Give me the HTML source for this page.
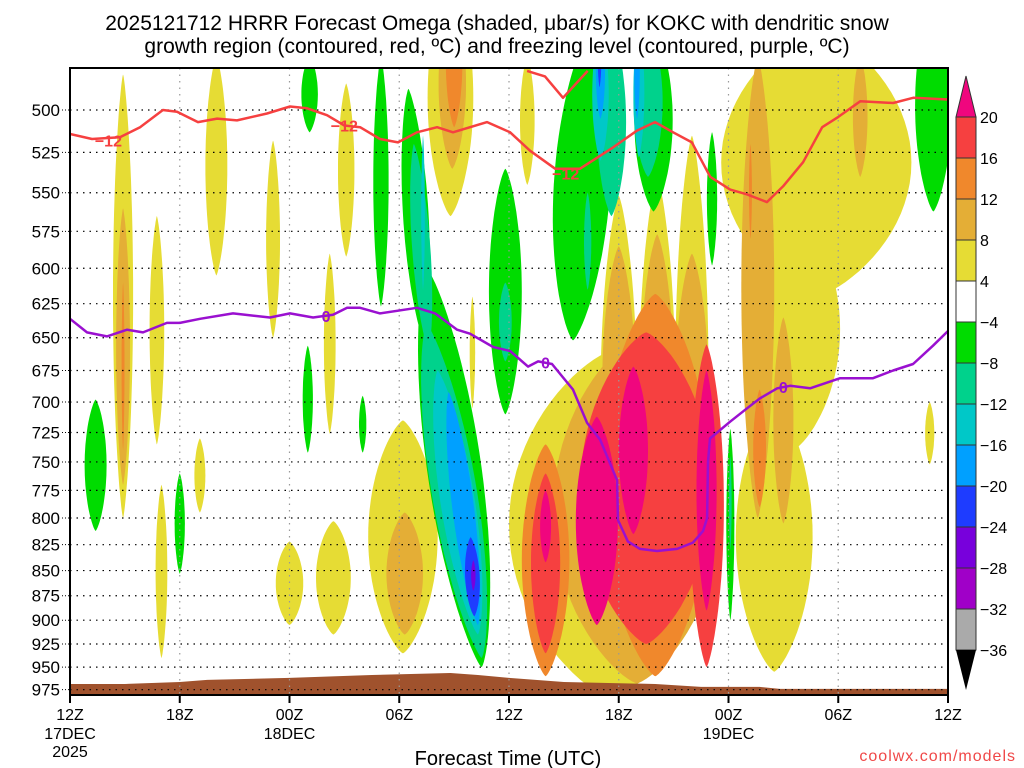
<!DOCTYPE html>
<html><head><meta charset="utf-8"><style>
html,body{margin:0;padding:0;background:#fff;}
svg{display:block;font-family:"Liberation Sans",sans-serif;}
</style></head><body>
<svg id="chart" width="1024" height="768" viewBox="0 0 1024 768" xmlns="http://www.w3.org/2000/svg">
<rect x="0" y="0" width="1024" height="768" fill="#fff"/>
<text x="497" y="30" text-anchor="middle" font-size="21" fill="#000">2025121712 HRRR Forecast Omega (shaded, μbar/s) for KOKC with dendritic snow</text>
<text x="497" y="53" text-anchor="middle" font-size="21" fill="#000">growth region (contoured, red, ºC) and freezing level (contoured, purple, ºC)</text>
<defs><clipPath id="plotclip"><rect x="70" y="68" width="878" height="627"/></clipPath></defs>
<g id="fills" clip-path="url(#plotclip)"></g>
<g id="terrain" clip-path="url(#plotclip)"></g>
<g id="grid"></g>
<g id="lines" clip-path="url(#plotclip)"></g>
<rect x="70" y="68" width="878" height="627" fill="none" stroke="#000" stroke-width="2"/>
<g id="axes"></g>
<g id="cbar"></g>
<text x="508" y="765" text-anchor="middle" font-size="20" fill="#000">Forecast Time (UTC)</text>
<text x="1016" y="761" text-anchor="end" font-size="16" fill="#f04848" letter-spacing="1">coolwx.com/models</text>
</svg>
<script>
// ---- data ----
const pressureTicks=[500,525,550,575,600,625,650,675,700,725,750,775,800,825,850,875,900,925,950,975];
const timeTickHours=[0,6,12,18,24,30,36,42,48];
const timeTickLabels=["12Z","18Z","00Z","06Z","12Z","18Z","00Z","06Z","12Z"];
const dateLabels=[[0,"17DEC","2025"],[12,"18DEC",""],[36,"19DEC",""]];
const cbarLevels=[20,16,12,8,4,-4,-8,-12,-16,-20,-24,-28,-32,-36];
// omega features: hour, top pressure, bottom pressure, half-width(h), value, tilt(h)
const blobHour=[2.9,2.9,2.9,4.75,5.0,7.1,8.0,11.1,12.0,14.4,15.1,14.2,18.2,18.3,20.8,20.9,21.0,25.0,22.0,
 29.6,30.0,32.1,34.0,31.0,30.0,32.1,34.0,26.0,32.0,26.0,31.5,34.8,26.0,28.8,30.8,34.8,
 40.8,39.5,38.5,37.6,39.0,43.2,37.2,37.7,47.0,
 1.4,6.0,13.0,16.0,13.1,17.0,18.9,21.0,19.2,21.0,19.3,21.2,21.5,22.0,22.05,23.8,23.8,
 28.0,29.6,28.3,29.0,29.0,28.95,31.9,31.6,31.1,31.0,35.1,36.1,36.1,47.2];
const blobPTop=[480,560,610,565,770,730,470,518,822,803,485,590,715,795,430,440,440,470,620,
 660,552,540,515,650,585,577,590,735,618,760,646,655,775,712,672,675,
 455,560,700,470,635,470,520,690,700,
 698,760,656,695,470,470,488,600,520,640,515,675,692,818,840,535,610,
 455,455,550,455,455,455,455,455,455,455,513,722,745,440];
const blobPBot=[800,770,740,735,940,795,605,650,905,915,592,726,935,915,565,535,510,545,705,
 985,880,880,880,968,800,800,800,960,960,935,925,950,842,905,815,890,
 620,740,955,800,805,540,580,790,752,
 812,853,742,742,513,627,650,950,660,940,615,915,905,896,870,710,668,
 652,565,615,530,505,487,562,540,528,505,598,900,830,562];
const blobHalfW=[0.55,0.38,0.08,0.4,0.32,0.3,0.6,0.38,0.75,0.95,0.45,0.32,1.9,1.0,1.25,0.75,0.45,0.4,0.15,
 5.6,1.0,1.0,0.9,4.6,0.9,0.9,0.9,1.3,3.0,0.8,3.6,0.95,0.3,1.15,0.8,0.55,
 5.2,2.6,2.1,0.9,0.55,0.4,0.08,0.35,0.25,
 0.6,0.28,0.28,0.2,0.45,0.42,0.7,1.5,0.5,1.25,0.1,0.95,0.6,0.4,0.12,0.9,0.35,
 1.55,0.8,0.2,0.45,0.25,0.1,1.05,0.8,0.3,0.15,0.28,0.22,0.07,1.0];
const blobValue=[6,10,14,6,6,6,6,6,6,6,6,6,6,10,6,10,14,6,6,
 6,6,6,6,10,10,10,10,14,14,18,18,18,24,24,24,24,
 6,6,6,10,10,10,14,14,6,
 -6,-6,-6,-6,-6,-6,-6,-6,-10,-10,-14,-14,-18,-22,-26,-6,-10,
 -6,-10,-10,-14,-18,-22,-6,-10,-14,-18,-6,-6,-10,-6];
const blobTilt=[0,0,0,0,0,0,0,0,0,0,0,0,0,0,0,0,0,0,0,
 0,0,0,0,0,0,0,0,0,0,0,0,0,0,0,0,0,
 0,0,0,0,0,0,0,0,0,
 0,0,0,0,0,0,0.4,1.5,0.4,1.5,0,1.1,0.8,0.1,0,0,0,
 -0.5,0,0,0,0,0,0,0,0,0,0,0,0,0];
// -12C line (hours, pressure)
const redHours=[0,1.2,2.73,3.83,5.08,5.85,7.0,8.04,9.13,10.77,12.03,12.96,14.05,15.0,15.86,16.95,17.93,18.97,20.07,20.94,22.8,24.06,25.15,26.52,27.88,29.69,31.0,31.98,32.97,34.0,35.0,36.09,37.0,38.1,38.98,40.08,41.12,42.0,43.2,45.0,46.1,48];
const redPres=[514,517,516,510,500,501,507,505,506,502,498,499,503,509,510,517,519,513,510,513,507,513,524,535,535,522,512,507,513,519,540,548,551,556,546,531,510,504,495,496,493,494];
const red2Hours=[24.99,25.97,26.95,28.3];
const red2Pres=[478,481,493,478];
const redLabelHours=[2.1,15.0,27.1];
const redLabelPres=[518,509,538];
// 0C line
const purHours=[0,0.93,2.02,3.12,3.99,5.3,6.01,7.11,8.91,10.93,12.03,13.29,14.38,15.15,15.86,16.95,18.97,19.96,21.16,21.87,23.13,24.06,25.04,25.59,26.35,27.5,28.27,28.98,29.91,29.96,30.5,31.16,32.09,33.19,34.06,34.61,34.83,34.88,34.99,36.09,37.02,37.73,38.66,39.37,40.46,42.1,43.9,45.0,46.09,47.18,48];
const purPres=[636,646,649,644,646,639,639,636,632,635,632,635,633,628,628,632,628,632,644,647,657,660,672,668,670,690,717,731,766,802,822,829,831,829,823,812,800,750,730,716,705,697,689,687,689,681,681,675,670,656,645];
const purLabelHours=[14.0,26.0,39.0];
const purLabelPres=[634,669,688];
// terrain surface pressure
const sfcHours=[0,3,6,7.5,12,16.5,20.8,22.3,24,27,32,34.5,37.7,38.8,48];
const sfcPres=[968.6,968.6,966.4,964.1,961.9,958.6,956.4,958.6,961.9,966.4,968.6,971.9,971.9,974.1,974.1];

// ---- axes ----
const X0=70,X1=948,Y500=110,PPL=868;
function xs(h){return X0+(X1-X0)*h/48;}
function ys(p){return Y500+PPL*Math.log(p/500);}
const NS="http://www.w3.org/2000/svg";
function mk(tag,attrs,parent){const e=document.createElementNS(NS,tag);for(const k in attrs)e.setAttribute(k,attrs[k]);parent.appendChild(e);return e;}
function colorFor(v){
 if(v>20)return"#f0067e";if(v>16)return"#f64040";if(v>12)return"#f0882c";if(v>8)return"#e4ae36";if(v>4)return"#e6dc34";
 if(v>=-4)return"#ffffff";if(v>=-8)return"#00dc00";if(v>=-12)return"#00d28c";if(v>=-16)return"#00c8c8";if(v>=-20)return"#00a0ff";
 if(v>=-24)return"#1e3cff";if(v>=-28)return"#7800dc";if(v>=-32)return"#a000c8";if(v>=-36)return"#aaaaaa";return"#000";}

// shading
const fills=document.getElementById('fills');
const idx=blobValue.map((v,i)=>i);
idx.sort((a,b)=>{const va=blobValue[a],vb=blobValue[b];
 if(va>0&&vb>0)return va-vb; if(va<0&&vb<0)return vb-va; return va>0?-1:1;});
idx.forEach(i=>{
 const lt=Math.log(blobPTop[i]),lb=Math.log(blobPBot[i]);
 const lc=(lt+lb)/2,lh=(lb-lt)/2;let d="";
 for(let k=0;k<80;k++){const t=k/80*2*Math.PI;const c=Math.cos(t),s=Math.sin(t);
  const u=Math.sign(c)*Math.pow(Math.abs(c),1.5),w=s;
  const hh=blobHour[i]+blobHalfW[i]*u+blobTilt[i]*w;const p=Math.exp(lc+lh*w);
  d+=(k?"L":"M")+xs(hh).toFixed(1)+","+ys(p).toFixed(1);}
 const e=mk('path',{d:d+"Z",fill:colorFor(blobValue[i])},fills);
 
 
});

// terrain
const ter=document.getElementById('terrain');
let td="M"+xs(0)+",700";
sfcHours.forEach((h,i)=>{td+="L"+xs(h).toFixed(1)+","+ys(sfcPres[i]).toFixed(1);});
td+="L"+xs(48)+",700Z";
const tp=mk('path',{d:td,fill:"#a0522d"},ter);



// grid
const grid=document.getElementById('grid');
pressureTicks.forEach(p=>{
 const l=mk('line',{x1:X0,x2:X1,y1:ys(p),y2:ys(p),stroke:"#000","stroke-width":1.2,"stroke-dasharray":"1.5,5"},grid);
 
 });
timeTickHours.slice(1,-1).forEach(h=>{
 const l=mk('line',{x1:xs(h),x2:xs(h),y1:68,y2:695,stroke:"#999","stroke-width":1.2,"stroke-dasharray":"1.5,5"},grid);
 
 });

// lines
const lines=document.getElementById('lines');
function poly(hs,ps,col,name){let d="";hs.forEach((h,i)=>{d+=(i?"L":"M")+xs(h).toFixed(1)+","+ys(ps[i]).toFixed(1);});
 const e=mk('path',{d:d,fill:"none",stroke:col,"stroke-width":2.5,"stroke-linejoin":"round"},lines);
 
 }
poly(redHours,redPres,"#f64040","dgz-minus12-line");
poly(red2Hours,red2Pres,"#f64040","dgz-minus12-line-top");
poly(purHours,purPres,"#9a10d0","freezing-level-line");
redLabelHours.forEach((h,i)=>{const t=mk('text',{x:xs(h),y:ys(redLabelPres[i])+6,"text-anchor":"middle","font-size":16,"font-weight":"bold",fill:"#f64040"},lines);
 t.textContent="−12";
 
 });
purLabelHours.forEach((h,i)=>{const t=mk('text',{x:xs(h),y:ys(purLabelPres[i])+6,"text-anchor":"middle","font-size":16,"font-weight":"bold",fill:"#9a10d0"},lines);
 t.textContent="0";
 
 });

// axes labels
const axes=document.getElementById('axes');
pressureTicks.forEach(p=>{
 const t=mk('text',{x:60,y:ys(p)+6,"text-anchor":"end","font-size":17,fill:"#000"},axes);
 t.textContent=p;
 
 
 const l=mk('line',{x1:62,x2:70,y1:ys(p),y2:ys(p),stroke:"#000","stroke-width":1,"stroke-dasharray":"1,2"},axes);
 
 });
timeTickHours.forEach((h,i)=>{
 const l=mk('line',{x1:xs(h),x2:xs(h),y1:695,y2:703,stroke:"#000","stroke-width":2},axes);
 
 
 const t=mk('text',{x:xs(h),y:720,"text-anchor":"middle","font-size":16,fill:"#000"},axes);
 t.textContent=timeTickLabels[i];
 
 });
dateLabels.forEach(dl=>{
 const t=mk('text',{x:xs(dl[0]),y:739,"text-anchor":"middle","font-size":16,fill:"#000"},axes);
 t.textContent=dl[1];
 
 
 if(dl[2]){const t2=mk('text',{x:xs(dl[0]),y:757,"text-anchor":"middle","font-size":16,fill:"#000"},axes);
  t2.textContent=dl[2];
  
  }});

// colorbar
const cb=document.getElementById('cbar');
const CB0=117,CBS=41,CX=956,CW=20;
const tri=mk('path',{d:`M${CX},${CB0}L${CX+CW/2},76L${CX+CW},${CB0}Z`,fill:"#f0067e",stroke:"#333","stroke-width":1},cb);


for(let k=0;k<cbarLevels.length-1;k++){
 const mid=(cbarLevels[k]+cbarLevels[k+1])/2;
 const r=mk('rect',{x:CX,y:CB0+k*CBS,width:CW,height:CBS,fill:colorFor(mid===0?0:mid),stroke:"#333","stroke-width":1},cb);
 
 }
const tri2=mk('path',{d:`M${CX},${CB0+13*CBS}L${CX+CW/2},690L${CX+CW},${CB0+13*CBS}Z`,fill:"#000"},cb);


cbarLevels.forEach((v,k)=>{
 const t=mk('text',{x:980,y:CB0+k*CBS+6,"font-size":16,fill:"#000"},cb);
 t.textContent=v<0?"−"+(-v):String(v);
 
 });
</script>
</body></html>
